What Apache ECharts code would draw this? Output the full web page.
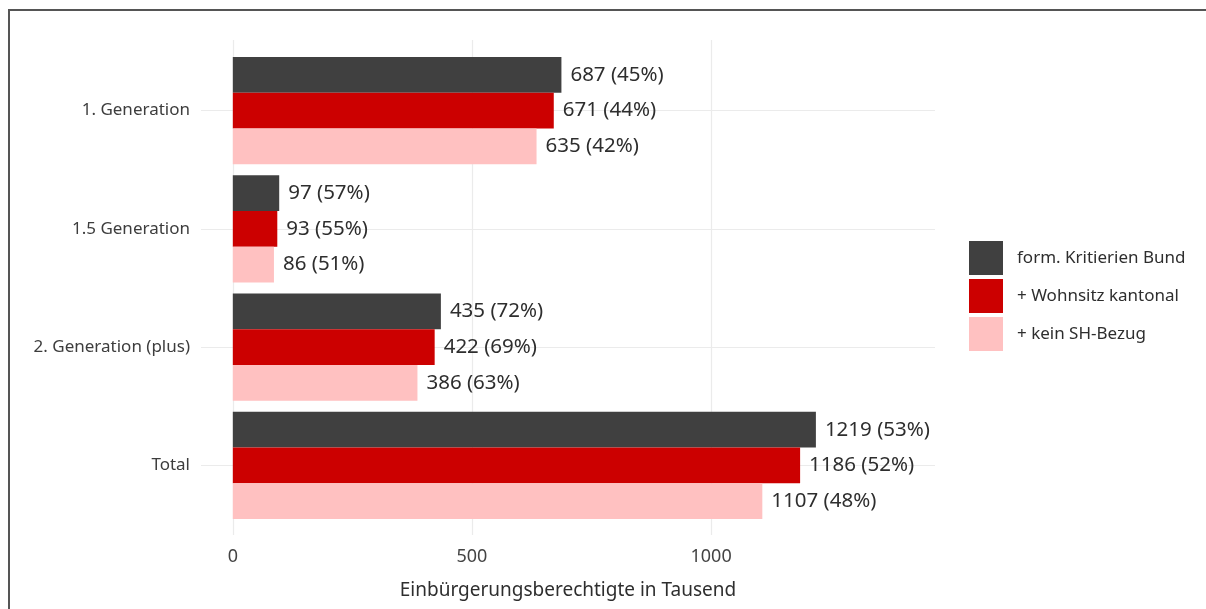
<!DOCTYPE html>
<html>
<head>
<meta charset="utf-8">
<script src="https://cdn.jsdelivr.net/npm/echarts@6/dist/echarts.min.js"></script>
<style>html,body{margin:0;padding:0;background:#fff}#c{width:1206px;height:609px}</style>
</head>
<body>
<div id="c"></div>
<script>
const categories = ['1. Generation', '1.5 Generation', '2. Generation (plus)', 'Total'];
const seriesNames = ['form. Kritierien Bund', '+ Wohnsitz kantonal', '+ kein SH-Bezug'];
const valuesBund = [687, 97, 435, 1219];
const pctBund = [45, 57, 72, 53];
const valuesWohnsitz = [671, 93, 422, 1186];
const pctWohnsitz = [44, 55, 69, 52];
const valuesKeinSH = [635, 86, 386, 1107];
const pctKeinSH = [42, 51, 63, 48];
const xTicks = [0, 500, 1000];
const colors = ['#404040', '#cc0000', '#ffc1c1'];
const axisTitle = 'Einbürgerungsberechtigte in Tausend';

const FONT = 'Noto Sans';
const chart = echarts.init(document.getElementById('c'), null, {renderer: 'canvas'});

function mkSeries(i, vals, pcts) {
  return {
    name: seriesNames[i],
    type: 'bar',
    xAxisIndex: 0, yAxisIndex: 0,
    data: vals,
    barWidth: '30.2%',
    barGap: '0%',
    itemStyle: {color: colors[i]},
    z: 3,
    label: {
      show: true, position: 'right', distance: 9,
      fontFamily: FONT, fontSize: 20.5, color: '#2e2e2e',
      formatter: p => vals[p.dataIndex] + ' (' + pcts[p.dataIndex] + '%)'
    },
    emphasis: {disabled: true},
    animation: false
  };
}

const option = {
  backgroundColor: '#ffffff',
  animation: false,
  textStyle: {fontFamily: FONT},
  grid: [
    {left: 201, right: 271, top: 51.5, bottom: 84.5},
    {left: 232.8, right: 1206 - (232.8 + 478.3), top: 40, bottom: 74},
    {left: 201, right: 271, top: 110.6, bottom: 609 - 465.3}
  ],
  xAxis: [
    {
      gridIndex: 0, type: 'value', min: -66.5, max: 1468,
      axisLine: {show: false}, axisTick: {show: false}, axisLabel: {show: false}, splitLine: {show: false},
      name: axisTitle, nameLocation: 'middle', nameGap: 57,
      nameTextStyle: {fontFamily: FONT, fontSize: 19, color: '#2e2e2e'}
    },
    {
      gridIndex: 1, type: 'value', min: xTicks[0], max: xTicks[xTicks.length - 1], interval: xTicks[1] - xTicks[0],
      axisLine: {show: false}, axisTick: {show: false},
      axisLabel: {fontFamily: FONT, fontSize: 18, color: '#444444', margin: 13, formatter: v => String(v)},
      splitLine: {show: true, lineStyle: {color: '#ebebeb', width: 1.2}}
    },
    {
      gridIndex: 2, type: 'value', min: 0, max: 1, show: false
    }
  ],
  yAxis: [
    {
      gridIndex: 0, type: 'category', data: categories, inverse: true,
      axisLine: {show: false}, axisTick: {show: false},
      axisLabel: {fontFamily: FONT, fontSize: 17, color: '#3d3d3d', margin: 11, padding: [3, 0, 0, 0]},
      splitLine: {show: false}
    },
    {
      gridIndex: 1, type: 'value', min: 0, max: 1, show: false
    },
    {
      gridIndex: 2, type: 'value', min: 0, max: categories.length - 1, interval: 1, inverse: true,
      axisLine: {show: false}, axisTick: {show: false}, axisLabel: {show: false},
      splitLine: {show: true, lineStyle: {color: '#ebebeb', width: 1.2}}
    }
  ],
  legend: {
    orient: 'vertical', left: 969, top: 241, padding: 0,
    itemWidth: 34, itemHeight: 34, itemGap: 4, icon: 'rect',
    data: seriesNames,
    selectedMode: false,
    textStyle: {fontFamily: FONT, fontSize: 17, color: '#2e2e2e', padding: [0, 0, 0, 9]}
  },
  graphic: [
    {type: 'polyline', silent: true, z: 100,
     shape: {points: [[9, 609], [9, 10], [1206, 10]]},
     style: {stroke: '#555555', lineWidth: 2, fill: null}}
  ],
  series: [
    mkSeries(0, valuesBund, pctBund),
    mkSeries(1, valuesWohnsitz, pctWohnsitz),
    mkSeries(2, valuesKeinSH, pctKeinSH)
  ]
};
chart.setOption(option);
</script>
</body>
</html>
